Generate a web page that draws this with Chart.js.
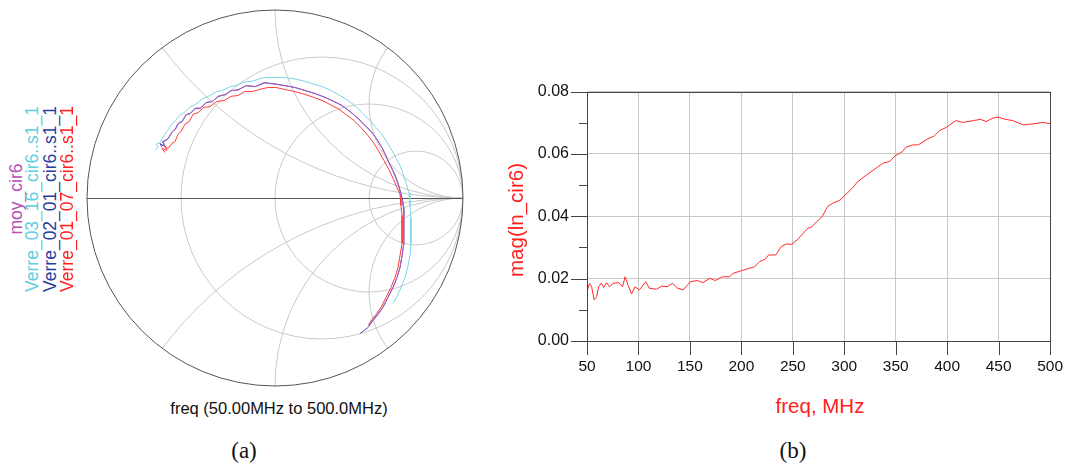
<!DOCTYPE html>
<html>
<head>
<meta charset="utf-8">
<script src="https://cdn.jsdelivr.net/npm/chart.js@4"></script>
<style>
  body { margin: 0; background: #fff; width: 1072px; height: 465px; position: relative; overflow: hidden;
         font-family: 'Liberation Sans', Arial, sans-serif; color: #111; }
  canvas { position: absolute; }
  .txt { position: absolute; text-align: center; white-space: nowrap; }
  .rot { transform: rotate(-90deg); }
  .serif { font-family: 'Liberation Serif', 'DejaVu Serif', serif; }
</style>
</head>
<body>
<canvas id="smith" width="396" height="396" style="left:77px;top:0px"></canvas>
<canvas id="mag" width="579" height="327" style="left:500px;top:64px"></canvas>

<!-- legend of the smith chart, written bottom to top -->
<div class="txt rot" style="left:-94px;top:189px;width:220px;height:20px;line-height:20px;font-size:17.5px;color:#b650b4">moy_cir6</div>
<div class="txt rot" style="left:-78px;top:189px;width:220px;height:20px;line-height:20px;font-size:17.5px;color:#5ecfe0">Verre_03_16_cir6..s1_1</div>
<div class="txt rot" style="left:-60px;top:189px;width:220px;height:20px;line-height:20px;font-size:17.5px;color:#2b3d9c">Verre_02_01_cir6..s1_1</div>
<div class="txt rot" style="left:-43px;top:189px;width:220px;height:20px;line-height:20px;font-size:17.5px;color:#ff2020">Verre_01_07_cir6..s1_1</div>

<div class="txt" style="left:129px;top:398px;width:300px;line-height:20px;font-size:16.5px">freq (50.00MHz to 500.0MHz)</div>
<div class="txt serif" style="left:204px;top:436px;width:80px;line-height:30px;font-size:23px">(a)</div>
<div class="txt serif" style="left:753px;top:436px;width:80px;line-height:30px;font-size:23px">(b)</div>

<div class="txt" style="left:720px;top:394px;width:200px;line-height:24px;font-size:20.5px;color:#ff2020">freq, MHz</div>
<div class="txt rot" style="left:416px;top:208px;width:200px;height:24px;line-height:24px;font-size:20.5px;color:#ff2020">mag(ln_cir6)</div>

<script>
// ---- Smith chart (a): reflection coefficient, real / imaginary parts, 50 -> 500 MHz ----
const moyRe = [-0.606, -0.590, -0.601, -0.580, -0.566, -0.545, -0.529, -0.511, -0.492, -0.471, -0.450, -0.423, -0.396, -0.364, -0.332, -0.300, -0.263, -0.231, -0.194, -0.152, -0.104, -0.056, -0.008, 0.050, 0.104, 0.157, 0.210, 0.263, 0.311, 0.353, 0.396, 0.439, 0.476, 0.513, 0.541, 0.567, 0.588, 0.604, 0.625, 0.641, 0.658, 0.673, 0.684, 0.686, 0.686, 0.681, 0.676, 0.665, 0.649, 0.627, 0.600, 0.573, 0.546, 0.519, 0.500];
const moyIm = [0.274, 0.285, 0.298, 0.306, 0.318, 0.356, 0.366, 0.400, 0.409, 0.445, 0.449, 0.479, 0.478, 0.509, 0.514, 0.543, 0.550, 0.572, 0.575, 0.598, 0.593, 0.612, 0.606, 0.598, 0.588, 0.572, 0.556, 0.537, 0.515, 0.494, 0.463, 0.426, 0.389, 0.351, 0.313, 0.271, 0.228, 0.190, 0.147, 0.110, 0.061, 0.003, -0.056, -0.120, -0.184, -0.247, -0.306, -0.370, -0.423, -0.476, -0.529, -0.582, -0.618, -0.650, -0.675];

const v0316Re = [-0.638, -0.622, -0.633, -0.612, -0.600, -0.578, -0.568, -0.546, -0.531, -0.503, -0.483, -0.450, -0.424, -0.386, -0.355, -0.312, -0.281, -0.237, -0.206, -0.158, -0.121, -0.067, -0.016, 0.037, 0.090, 0.144, 0.197, 0.250, 0.298, 0.346, 0.388, 0.431, 0.468, 0.505, 0.537, 0.569, 0.596, 0.622, 0.644, 0.665, 0.681, 0.697, 0.713, 0.718, 0.723, 0.723, 0.723, 0.718, 0.707, 0.691, 0.670, 0.649, 0.628];
const v0316Im = [0.253, 0.274, 0.285, 0.295, 0.316, 0.352, 0.364, 0.395, 0.412, 0.443, 0.454, 0.485, 0.497, 0.528, 0.540, 0.565, 0.572, 0.592, 0.600, 0.618, 0.621, 0.639, 0.641, 0.641, 0.636, 0.625, 0.609, 0.593, 0.572, 0.545, 0.519, 0.487, 0.449, 0.412, 0.375, 0.338, 0.295, 0.253, 0.210, 0.173, 0.130, 0.082, 0.024, -0.040, -0.109, -0.173, -0.242, -0.306, -0.364, -0.423, -0.476, -0.524, -0.561];

const v0201Re = [-0.601, -0.612, -0.585, -0.596, -0.569, -0.548, -0.532, -0.516, -0.495, -0.473, -0.452, -0.426, -0.399, -0.367, -0.335, -0.303, -0.266, -0.234, -0.197, -0.154, -0.106, -0.059, -0.011, 0.053, 0.106, 0.160, 0.213, 0.266, 0.314, 0.356, 0.399, 0.441, 0.479, 0.516, 0.543, 0.569, 0.590, 0.606, 0.628, 0.644, 0.660, 0.676, 0.686, 0.686, 0.686, 0.681, 0.676, 0.665, 0.649, 0.628, 0.601, 0.574, 0.548, 0.521, 0.495, 0.473, 0.452];
const v0201Im = [0.269, 0.290, 0.274, 0.301, 0.315, 0.352, 0.364, 0.395, 0.406, 0.443, 0.449, 0.475, 0.476, 0.507, 0.513, 0.539, 0.550, 0.570, 0.576, 0.597, 0.592, 0.613, 0.609, 0.598, 0.588, 0.572, 0.556, 0.535, 0.513, 0.492, 0.460, 0.423, 0.386, 0.348, 0.311, 0.269, 0.226, 0.189, 0.146, 0.109, 0.061, 0.003, -0.056, -0.120, -0.184, -0.247, -0.306, -0.370, -0.423, -0.476, -0.529, -0.582, -0.620, -0.652, -0.689, -0.705, -0.721];

const v0107Re = [-0.585, -0.601, -0.574, -0.590, -0.569, -0.548, -0.532, -0.516, -0.500, -0.479, -0.457, -0.436, -0.410, -0.378, -0.346, -0.309, -0.271, -0.234, -0.197, -0.160, -0.122, -0.080, -0.037, 0.005, 0.053, 0.106, 0.160, 0.207, 0.250, 0.293, 0.335, 0.378, 0.420, 0.457, 0.495, 0.527, 0.553, 0.580, 0.606, 0.628, 0.649, 0.665, 0.670, 0.676, 0.676, 0.676, 0.665, 0.654, 0.638, 0.617, 0.590, 0.564, 0.537, 0.516, 0.495];
const v0107Im = [0.242, 0.263, 0.253, 0.279, 0.263, 0.291, 0.300, 0.338, 0.353, 0.392, 0.406, 0.445, 0.454, 0.482, 0.486, 0.514, 0.518, 0.541, 0.545, 0.567, 0.566, 0.578, 0.588, 0.588, 0.577, 0.566, 0.551, 0.535, 0.519, 0.497, 0.476, 0.444, 0.412, 0.375, 0.332, 0.290, 0.247, 0.199, 0.152, 0.104, 0.056, 0.019, -0.040, -0.093, -0.162, -0.242, -0.306, -0.370, -0.423, -0.476, -0.529, -0.582, -0.620, -0.646, -0.678];

// smith grid: constant resistance circles and constant reactance arcs
const resistanceCircles = [1 / 3, 1, 3];
const reactanceArcs = [0.5, 1, 2, -0.5, -1, -2];

// ---- chart (b): magnitude vs frequency ----
const freqMHz = [50, 52.4, 54.5, 56.9, 59.3, 61.4, 63.8, 66.3, 69, 71.8, 75.3, 81, 84.6, 87, 89.8, 93.3, 96.7, 100.9, 107.1, 110.6, 117.5, 122.7, 127.9, 133.1, 138.3, 143.5, 150.4, 157.3, 162.5, 169.4, 174.6, 181.5, 188.5, 191.9, 200.6, 207.5, 212.7, 217.9, 223.1, 226.5, 233.5, 238.7, 243.8, 249, 254.2, 259.4, 264.6, 268.1, 273.3, 278.5, 283.7, 288.8, 295.8, 302.7, 307.8, 313, 321.7, 328.7, 337.3, 344.2, 349.4, 356.3, 359.8, 366.7, 371.9, 380.5, 387.5, 392.7, 399.6, 408.3, 415.2, 425.6, 432.5, 437.7, 444.6, 449.8, 456.7, 463.7, 474, 484.4, 493.1, 500];
const magLn = [0.0158, 0.0185, 0.0174, 0.0132, 0.0142, 0.0174, 0.0185, 0.0172, 0.0187, 0.0174, 0.0185, 0.0187, 0.0174, 0.0206, 0.0180, 0.0151, 0.0174, 0.0164, 0.0190, 0.0169, 0.0166, 0.0176, 0.0174, 0.0185, 0.0169, 0.0164, 0.0190, 0.0194, 0.0187, 0.0201, 0.0194, 0.0206, 0.0206, 0.0217, 0.0226, 0.0233, 0.0238, 0.0255, 0.0262, 0.0276, 0.0276, 0.0303, 0.0311, 0.0310, 0.0324, 0.0343, 0.0362, 0.0365, 0.0383, 0.0399, 0.0431, 0.0442, 0.0452, 0.0474, 0.0490, 0.0511, 0.0533, 0.0549, 0.0570, 0.0576, 0.0594, 0.0607, 0.0621, 0.0629, 0.0629, 0.0647, 0.0658, 0.0675, 0.0686, 0.0707, 0.0701, 0.0707, 0.0711, 0.0704, 0.0715, 0.0718, 0.0711, 0.0707, 0.0693, 0.0697, 0.0701, 0.0697];

const FONT = "'Liberation Sans', Arial, sans-serif";

function pts(re, im) {
    return re.map((r, i) => ({ x: r, y: im[i] }));
}

const smithGrid = {
    id: 'smithGrid',
    beforeDatasetsDraw(chart) {
        const { ctx, scales: { x, y } } = chart;
        const unit = x.getPixelForValue(1) - x.getPixelForValue(0);
        const cx = x.getPixelForValue(0), cy = y.getPixelForValue(0);
        ctx.save();
        ctx.beginPath();
        ctx.arc(cx, cy, unit, 0, 2 * Math.PI);
        ctx.clip();
        ctx.strokeStyle = '#c9c9c9';
        ctx.lineWidth = 1;
        resistanceCircles.forEach(r => {
            ctx.beginPath();
            ctx.arc(x.getPixelForValue(r / (1 + r)), cy, unit / (1 + r), 0, 2 * Math.PI);
            ctx.stroke();
        });
        reactanceArcs.forEach(xv => {
            ctx.beginPath();
            ctx.arc(x.getPixelForValue(1), y.getPixelForValue(1 / xv), unit / Math.abs(xv), 0, 2 * Math.PI);
            ctx.stroke();
        });
        ctx.restore();
        // outer circle + real axis
        ctx.save();
        ctx.strokeStyle = '#555';
        ctx.lineWidth = 1;
        ctx.beginPath();
        ctx.arc(cx, cy, unit, 0, 2 * Math.PI);
        ctx.stroke();
        ctx.beginPath();
        ctx.moveTo(x.getPixelForValue(-1), Math.round(cy) + 0.5);
        ctx.lineTo(x.getPixelForValue(1), Math.round(cy) + 0.5);
        ctx.stroke();
        ctx.restore();
    }
};

new Chart(document.getElementById('smith'), {
    type: 'scatter',
    data: {
        datasets: [
            { label: 'moy_cir6', data: pts(moyRe, moyIm), borderColor: '#b45cc4' },
            { label: 'Verre_01_07_cir6..s1_1', data: pts(v0107Re, v0107Im), borderColor: '#ff3a3a' },
            { label: 'Verre_02_01_cir6..s1_1', data: pts(v0201Re, v0201Im), borderColor: '#4656b4' },
            { label: 'Verre_03_16_cir6..s1_1', data: pts(v0316Re, v0316Im), borderColor: '#7ad6e6' }
        ].map(d => Object.assign(d, { showLine: true, pointRadius: 0, borderWidth: 1, tension: 0, clip: false }))
    },
    options: {
        responsive: false,
        animation: false,
        layout: { padding: 10 },
        plugins: { legend: { display: false }, tooltip: { enabled: false } },
        scales: {
            x: { type: 'linear', min: -1, max: 1, display: false },
            y: { type: 'linear', min: -1, max: 1, display: false }
        }
    },
    plugins: [smithGrid]
});

const magFrame = {
    id: 'magFrame',
    afterDraw(chart) {
        const { ctx, chartArea: a, scales: { x, y } } = chart;
        ctx.save();
        ctx.strokeStyle = '#444';
        ctx.lineWidth = 1;
        ctx.strokeRect(Math.round(a.left) + 0.5, Math.round(a.top) + 0.5, Math.round(a.right - a.left), Math.round(a.bottom - a.top));
        ctx.beginPath();
        y.ticks.forEach(t => {
            const yy = Math.round(y.getPixelForValue(t.value)) + 0.5;
            const len = Math.round(t.value * 100) % 2 === 0 ? 16 : 8;
            ctx.moveTo(a.left - len, yy);
            ctx.lineTo(a.left, yy);
        });
        x.ticks.forEach(t => {
            const xx = Math.round(x.getPixelForValue(t.value)) + 0.5;
            ctx.moveTo(xx, a.bottom);
            ctx.lineTo(xx, a.bottom + 14);
        });
        ctx.stroke();
        ctx.restore();
    }
};

new Chart(document.getElementById('mag'), {
    type: 'line',
    data: {
        datasets: [{
            label: 'mag(ln_cir6)',
            data: freqMHz.map((f, i) => ({ x: f, y: magLn[i] })),
            borderColor: '#ff2a2a',
            borderWidth: 1,
            pointRadius: 0,
            tension: 0
        }]
    },
    options: {
        responsive: false,
        animation: false,
        layout: { padding: { left: 0, top: 10, right: 22, bottom: 0 } },
        plugins: { legend: { display: false }, tooltip: { enabled: false } },
        scales: {
            x: {
                type: 'linear', min: 50, max: 500,
                afterFit: s => { s.height = 50; },
                ticks: { stepSize: 50, color: '#111', padding: 16, font: { family: FONT, size: 15.5 }, maxRotation: 0 },
                grid: { color: '#c8c8c8', drawTicks: false },
                border: { display: false }
            },
            y: {
                min: 0, max: 0.08,
                afterFit: s => { s.width = 87; },
                ticks: {
                    stepSize: 0.01, color: '#111', padding: 18, font: { family: FONT, size: 16 },
                    callback: v => Math.round(v * 100) % 2 === 0 ? v.toFixed(2) : ''
                },
                grid: {
                    drawTicks: false,
                    color: c => (c.tick && Math.round(c.tick.value * 100) % 2 === 0) ? '#c8c8c8' : 'rgba(0,0,0,0)'
                },
                border: { display: false }
            }
        }
    },
    plugins: [magFrame]
});
</script>
</body>
</html>
